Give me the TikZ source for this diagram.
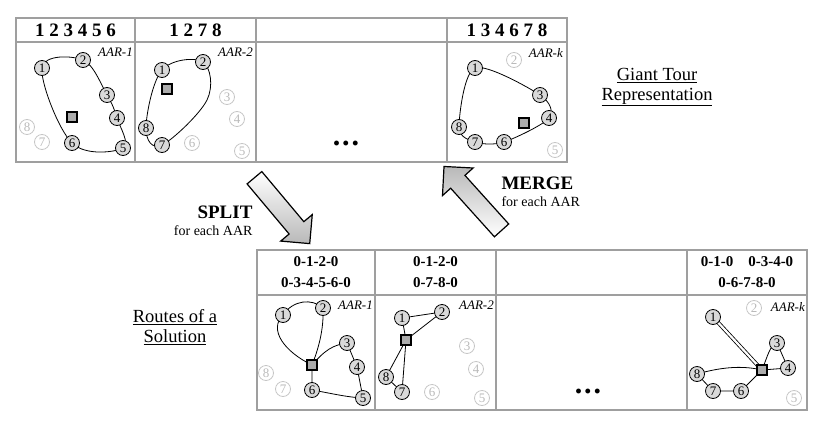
\documentclass[tikz,border=0pt]{standalone}
\usepackage{fontspec}
\setmainfont{Liberation Serif}
\usetikzlibrary{shapes.arrows, backgrounds}

\begin{document}
\begin{tikzpicture}[x=1pt, y=-1pt,
    frame/.style={draw=gray!75, line width=1.3pt},
    cust/.style={circle, draw=black, line width=0.8pt, fill=gray!30, inner sep=0pt, minimum size=15pt, font=\fontsize{13}{13}\selectfont},
    idle/.style={circle, draw=gray!45, line width=0.8pt, text=gray!55, inner sep=0pt, minimum size=15pt, font=\fontsize{13}{13}\selectfont},
    depot/.style={rectangle, draw=black, line width=1.1pt, fill=gray!65, inner sep=0pt, minimum size=10pt},
    tour/.style={line width=0.8pt},
    aar/.style={anchor=east, inner sep=0pt, font=\fontsize{13}{13}\selectfont\itshape},
    seq/.style={font=\fontsize{19}{19}\selectfont\bfseries},
    routes/.style={align=center, font=\fontsize{15}{21}\selectfont\bfseries},
    caption/.style={align=center, font=\fontsize{18.5}{20}\selectfont},
    dots/.style={font=\fontsize{30}{30}\selectfont\bfseries},
    bigarrow/.style={single arrow, draw=black, line width=1.2pt, inner ysep=9pt, inner xsep=0pt,
        minimum height=86pt, single arrow head extend=11pt},
]
\useasboundingbox (0,0) rectangle (816,423);

% Giant tour table
\draw[frame] (16,18) rectangle (567,162);
\draw[frame] (16,42) -- (567,42);
\draw[frame] (135,18) -- (135,162);
\draw[frame] (256,18) -- (256,162);
\draw[frame] (447,18) -- (447,162);
\node[seq] (gt1) at (75.5,30) {1 2 3 4 5 6};
\node[seq] (gt2) at (195.5,30) {1 2 7 8};
\node[seq] (gtk) at (507,30) {1 3 4 6 7 8};
\node[dots] (gtdots) at (346,143) {.\kern2pt.\kern2pt.};

% AAR-1 (giant tour)
\node[aar] (aar1) at (133,52) {AAR-1};
\node[cust] (ta1) at (42,68) {1};
\node[cust] (ta2) at (83,60) {2};
\node[cust] (ta3) at (107,95) {3};
\node[cust] (ta4) at (117,118) {4};
\node[cust] (ta5) at (123,148) {5};
\node[cust] (ta6) at (72,143) {6};
\node[idle] (ta7) at (42,142) {7};
\node[idle] (ta8) at (27,127) {8};
\node[depot] (taD) at (72,117) {};
\begin{scope}[on background layer]
\draw[tour] plot[smooth cycle, tension=0.6] coordinates {(ta1) (ta2) (ta3) (ta4) (ta5) (ta6)};
\end{scope}

% AAR-2 (giant tour)
\node[aar] (aar2) at (253,52) {AAR-2};
\node[cust] (tb1) at (162,70) {1};
\node[cust] (tb2) at (203,62) {2};
\node[idle] (tb3) at (227,97) {3};
\node[idle] (tb4) at (237,119) {4};
\node[idle] (tb5) at (242,151) {5};
\node[idle] (tb6) at (192,143) {6};
\node[cust] (tb7) at (162,145) {7};
\node[cust] (tb8) at (146,128) {8};
\node[depot] (tbD) at (167,89) {};
\begin{scope}[on background layer]
\draw[tour] plot[smooth cycle, tension=0.6] coordinates {(tb1) (tb2) (207,100) (tb7) (tb8)};
\end{scope}

% AAR-k (giant tour)
\node[aar] (aark) at (563,53) {AAR-k};
\node[cust] (tk1) at (475,68) {1};
\node[idle] (tk2) at (514,60) {2};
\node[cust] (tk3) at (540,95) {3};
\node[cust] (tk4) at (549,118) {4};
\node[idle] (tk5) at (555,150) {5};
\node[cust] (tk6) at (504,142) {6};
\node[cust] (tk7) at (475,142) {7};
\node[cust] (tk8) at (459,127) {8};
\node[depot] (tkD) at (524,123) {};
\begin{scope}[on background layer]
\draw[tour] plot[smooth cycle, tension=0.5] coordinates {(tk1) (tk3) (tk4) (tk6) (tk7) (tk8)};
\end{scope}

\node[caption] (gtcap) at (657,87) {\underline{Giant Tour}\\\underline{Representation}};

% Split / merge
\node[bigarrow, rotate=-50, top color=white, bottom color=gray!55] (split) at (279,207) {};
\node[bigarrow, rotate=132, top color=gray!55, bottom color=white] (merge) at (476,202) {};
\node[align=right, anchor=east, font=\fontsize{14}{17}\selectfont] (splittxt) at (256,221)
    {{\fontsize{19}{19}\selectfont\bfseries SPLIT}\\for each AAR};
\node[align=left, anchor=west, font=\fontsize{14}{17}\selectfont] (mergetxt) at (498,192)
    {{\fontsize{19}{19}\selectfont\bfseries MERGE}\\for each AAR};

% Routes table
\draw[frame] (257,250) rectangle (807,410);
\draw[frame] (257,295) -- (807,295);
\draw[frame] (375,250) -- (375,410);
\draw[frame] (496,250) -- (496,410);
\draw[frame] (687,250) -- (687,410);
\node[routes] (rt1) at (316,272.5) {0-1-2-0\\0-3-4-5-6-0};
\node[routes] (rt2) at (435.5,272.5) {0-1-2-0\\0-7-8-0};
\node[routes] (rtk) at (747,272.5) {0-1-0\quad 0-3-4-0\\0-6-7-8-0};
\node[dots] (rtdots) at (588,391) {.\kern2pt.\kern2pt.};

% AAR-1 (routes)
\node[aar] (baar1) at (373,305) {AAR-1};
\node[cust] (ba1) at (283,315) {1};
\node[cust] (ba2) at (323,308) {2};
\node[cust] (ba3) at (347,343) {3};
\node[cust] (ba4) at (357,367) {4};
\node[cust] (ba5) at (363,398) {5};
\node[cust] (ba6) at (312,390) {6};
\node[idle] (ba7) at (283,389) {7};
\node[idle] (ba8) at (266,373) {8};
\node[depot] (baD) at (312,365) {};
\begin{scope}[on background layer]
\draw[tour] (baD.center) .. controls (285,352) and (268,330) .. (ba1.center)
    .. controls (293,300) and (312,298) .. (ba2.center)
    .. controls (324,330) and (318,350) .. (baD.center);
\draw[tour] (baD.center) .. controls (325,350) and (333,345) .. (ba3.center)
    -- (ba4.center) -- (ba5.center) .. controls (345,397) and (330,393) .. (ba6.center) -- (baD.center);
\end{scope}

% AAR-2 (routes)
\node[aar] (baar2) at (494,305) {AAR-2};
\node[cust] (bb1) at (402,318) {1};
\node[cust] (bb2) at (442,312) {2};
\node[idle] (bb3) at (467,346) {3};
\node[idle] (bb4) at (476,369) {4};
\node[idle] (bb5) at (482,398) {5};
\node[idle] (bb6) at (432,392) {6};
\node[cust] (bb7) at (402,392) {7};
\node[cust] (bb8) at (386,377) {8};
\node[depot] (bbD) at (406,340) {};
\begin{scope}[on background layer]
\draw[tour] (bbD.center) -- (bb1.center) -- (bb2.center) -- cycle;
\draw[tour] (bbD.center) -- (bb8.center) -- (bb7.center) -- cycle;
\end{scope}

% AAR-k (routes)
\node[aar] (baark) at (805,307) {AAR-k};
\node[cust] (bk1) at (713,317) {1};
\node[idle] (bk2) at (754,308) {2};
\node[cust] (bk3) at (777,343) {3};
\node[cust] (bk4) at (788,368) {4};
\node[idle] (bk5) at (794,398) {5};
\node[cust] (bk6) at (741,391) {6};
\node[cust] (bk7) at (713,391) {7};
\node[cust] (bk8) at (697,374) {8};
\node[depot] (bkD) at (762,370) {};
\begin{scope}[on background layer]
\draw[tour, double, double distance=2.2pt] (bkD.center) -- (bk1.center);
\draw[tour] (bkD.center) .. controls (768,355) and (770,345) .. (bk3.center) -- (bk4.center) -- (bkD.center);
\draw[tour] (bkD.center) -- (bk6.center) -- (bk7.center) -- (bk8.center)
    .. controls (725,366) and (745,366) .. (bkD.center);
\end{scope}

\node[caption] (rtcap) at (175,327) {\underline{Routes of a}\\\underline{Solution}};
\end{tikzpicture}
\end{document}
